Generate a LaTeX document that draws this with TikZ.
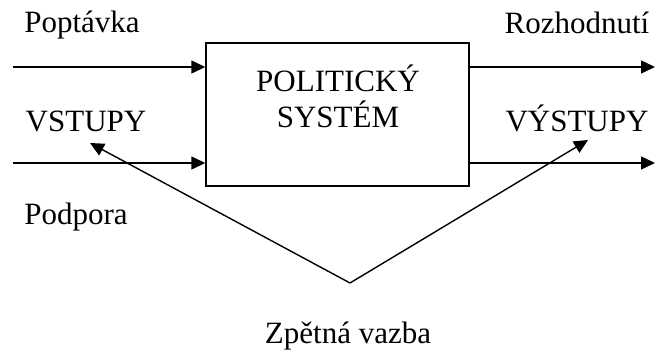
\documentclass[tikz,border=0pt]{standalone}
\usepackage{fontspec}
\setmainfont{Liberation Serif}
\usetikzlibrary{arrows.meta}

\begin{document}
\begin{tikzpicture}[x=1pt,y=1pt,
  txt/.style={anchor=base,inner sep=0pt,font=\fontsize{31}{36}\selectfont},
  flow/.style={line width=1.4pt,-{Triangle[length=14pt,width=13pt]}},
  sysbox/.style={draw,line width=1.4pt,minimum width=263pt,minimum height=143pt,inner sep=0pt}]
\useasboundingbox (0,0) rectangle (655,356);
% Drawing the system box
\node[sysbox] (sys) at (337.5,241.5) {};
\node[txt] (sys1) at (338,264) {POLITICKÝ};
\node[txt] (sys2) at (338,228) {SYSTÉM};
% Drawing labels
\node[txt] (poptavka) at (82,323) {Poptávka};
\node[txt] (vstupy) at (86,224) {VSTUPY};
\node[txt] (podpora) at (76,131) {Podpora};
\node[txt] (rozhodnuti) at (577,322) {Rozhodnutí};
\node[txt] (vystupy) at (577,224) {VÝSTUPY};
\node[txt] (vazba) at (348,13) {Zpětná vazba};
% Free ends of the arrows
\coordinate (in1) at (13,289);
\coordinate (in2) at (13,193);
\coordinate (out1) at (655,289);
\coordinate (out2) at (655,193);
\coordinate (fbtip) at (350,73);
\coordinate (fbin) at (90,213);
\coordinate (fbout) at (588,216);
% Inputs
\draw[flow] (in1) -- (in1 -| sys.west);
\draw[flow] (in2) -- (in2 -| sys.west);
% Outputs
\draw[flow] (out1 -| sys.east) -- (out1);
\draw[flow] (out2 -| sys.east) -- (out2);
% Feedback
\draw[flow] (fbtip) -- (fbin);
\draw[flow] (fbtip) -- (fbout);
\end{tikzpicture}
\end{document}
